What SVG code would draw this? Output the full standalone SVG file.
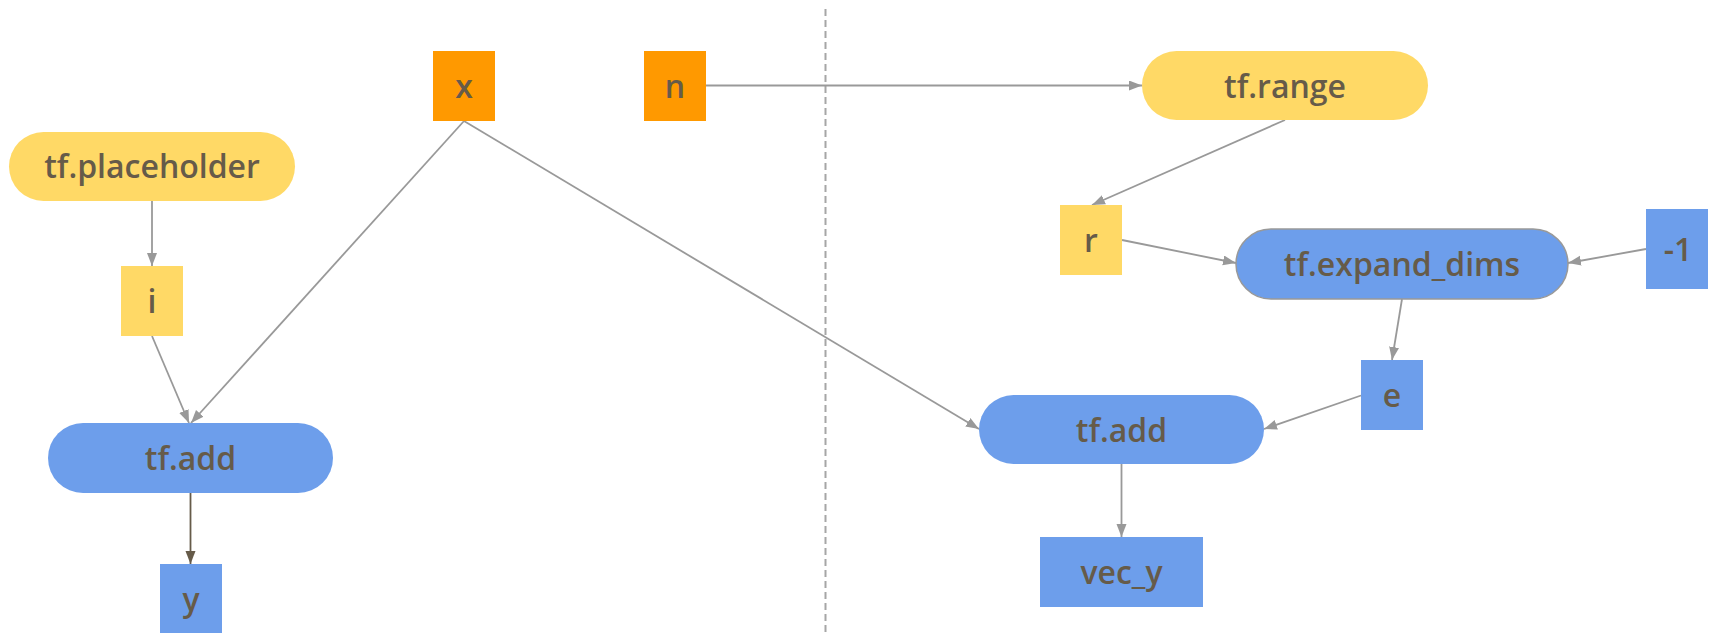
<svg xmlns="http://www.w3.org/2000/svg" width="1709" height="633" viewBox="0 0 1709 633">
  <style>
    .lbl { font-family: "Open Sans", "Noto Sans", "Liberation Sans", sans-serif; font-size: 32px; font-weight: 600; fill: #665b49; text-anchor: middle; }
    .yellow { fill: #ffd966; }
    .orange { fill: #ff9900; }
    .blue { fill: #6d9eeb; }
    .edge { stroke: #999999; stroke-width: 1.8; fill: none; marker-end: url(#arrow); }
    .edge-dark { stroke: #665b49; stroke-width: 1.8; fill: none; marker-end: url(#arrow-dark); }
    .divider { stroke: #a6a6a6; stroke-width: 2; stroke-dasharray: 7 4; fill: none; }
  </style>
  <defs>
    <marker id="arrow" markerUnits="userSpaceOnUse" markerWidth="14" markerHeight="11" refX="13" refY="5" orient="auto">
      <path d="M0,0 L13,5 L0,10 z" fill="#999999"/>
    </marker>
    <marker id="arrow-dark" markerUnits="userSpaceOnUse" markerWidth="14" markerHeight="11" refX="13" refY="5" orient="auto">
      <path d="M0,0 L13,5 L0,10 z" fill="#665b49"/>
    </marker>
  </defs>

  <rect width="1709" height="633" fill="#ffffff"/>

  <!-- divider between the scalar and vector examples -->
  <path class="divider" d="M825.5,9 L825.5,633"/>

  <g id="connectors">
    <path class="edge" d="M152,201 L152,266"/>
    <path class="edge" d="M152,336 L189,423"/>
    <path class="edge" d="M464,121 L191,423"/>
    <path class="edge-dark" d="M190.5,493 L190.5,564"/>
    <path class="edge" d="M464,121 L979,429"/>
    <path class="edge" d="M706,85.5 L1142,85.5"/>
    <path class="edge" d="M1285,120 L1092,205"/>
    <path class="edge" d="M1122,240 L1236,263"/>
    <path class="edge" d="M1646,249 L1568,263"/>
    <path class="edge" d="M1402,299 L1392,360"/>
    <path class="edge" d="M1361,395.5 L1264,429"/>
    <path class="edge" d="M1121.5,464 L1121.5,537"/>
  </g>

  <g id="node-placeholder">
    <rect class="yellow" x="9" y="132" width="286" height="69" rx="34.5"/>
    <text class="lbl" x="152" y="178">tf.placeholder</text>
  </g>
  <g id="node-i">
    <rect class="yellow" x="121" y="266" width="62" height="70"/>
    <text class="lbl" x="152" y="312.5">i</text>
  </g>
  <g id="node-x">
    <rect class="orange" x="433" y="51" width="62" height="70"/>
    <text class="lbl" x="464" y="97.5">x</text>
  </g>
  <g id="node-n">
    <rect class="orange" x="644" y="51" width="62" height="70"/>
    <text class="lbl" x="675" y="97.5">n</text>
  </g>
  <g id="node-add">
    <rect class="blue" x="48" y="423" width="285" height="70" rx="35"/>
    <text class="lbl" x="190.5" y="469.5">tf.add</text>
  </g>
  <g id="node-y">
    <rect class="blue" x="160" y="564" width="62" height="70"/>
    <text class="lbl" x="191" y="610.5">y</text>
  </g>
  <g id="node-range">
    <rect class="yellow" x="1142" y="51" width="286" height="69" rx="34.5"/>
    <text class="lbl" x="1285" y="97.5">tf.range</text>
  </g>
  <g id="node-r">
    <rect class="yellow" x="1060" y="205" width="62" height="70"/>
    <text class="lbl" x="1091" y="251.5">r</text>
  </g>
  <g id="node-expand-dims">
    <rect class="blue" x="1236" y="229" width="332" height="70" rx="35" stroke="#999999" stroke-width="1.5"/>
    <text class="lbl" x="1402" y="275.5">tf.expand_dims</text>
  </g>
  <g id="node-minus-one">
    <rect class="blue" x="1646" y="209" width="62" height="80"/>
    <text class="lbl" x="1678" y="260.5">-1</text>
  </g>
  <g id="node-e">
    <rect class="blue" x="1361" y="360" width="62" height="70"/>
    <text class="lbl" x="1392" y="406.5">e</text>
  </g>
  <g id="node-add-vec">
    <rect class="blue" x="979" y="395" width="285" height="69" rx="34.5"/>
    <text class="lbl" x="1121.5" y="441.5">tf.add</text>
  </g>
  <g id="node-vec-y">
    <rect class="blue" x="1040" y="537" width="163" height="70"/>
    <text class="lbl" x="1121.5" y="583.5">vec_y</text>
  </g>
</svg>
